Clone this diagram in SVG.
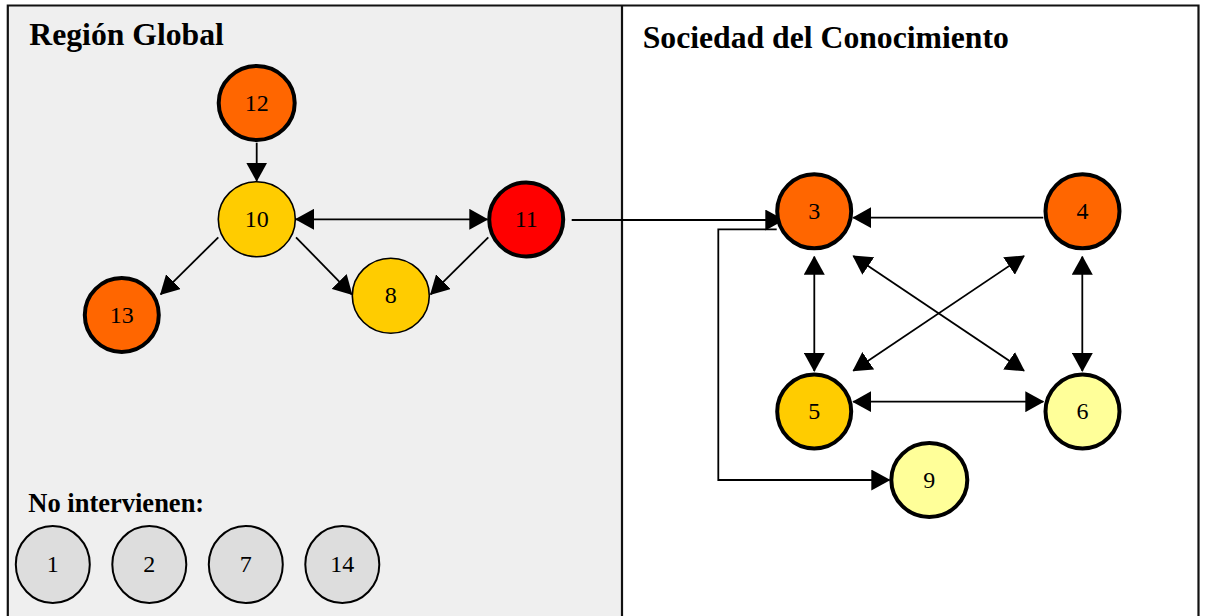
<svg xmlns="http://www.w3.org/2000/svg" width="1205" height="616" viewBox="0 0 1205 616">
<defs>
<style>
.frame{fill:none;stroke:#111;stroke-width:2.2}
.title{font-family:"Liberation Serif","Times New Roman",serif;font-weight:bold;fill:#000}
.lbl{font-family:"Liberation Serif","Times New Roman",serif;font-size:24px;text-anchor:middle;fill:#000}
.thick{stroke:#000;stroke-width:4}
.thin{stroke:#000;stroke-width:1.6}
.gray{fill:#DDDDDD;stroke:#000;stroke-width:2}
.orange{fill:#FF6600}
.yellow{fill:#FFCC00}
.red{fill:#FF0000}
.pale{fill:#FFFF99}
.edge{fill:none;stroke:#000;stroke-width:1.8}
.one{marker-end:url(#ah)}
.two{marker-start:url(#ah);marker-end:url(#ah)}
</style>
<marker id="ah" viewBox="0 0 19 21" refX="18" refY="10.5" markerWidth="19" markerHeight="21" markerUnits="userSpaceOnUse" orient="auto-start-reverse">
<path d="M0,0 L19,10.5 L0,21 z" fill="#000"/>
</marker>
</defs>

<g id="panels">
<rect x="8" y="5.5" width="614" height="620" fill="#EFEFEF"/>
<rect x="622" y="5.5" width="576.5" height="620" fill="#FFFFFF"/>
<path class="frame" d="M7.8,625 V5.5 H1198.5 V625"/>
<line class="frame" x1="622" y1="5.5" x2="622" y2="625"/>
<text class="title" x="29.3" y="45" font-size="31.7">Región Global</text>
<text class="title" x="642.7" y="48.3" font-size="31.7">Sociedad del Conocimiento</text>
<text class="title" x="28.3" y="511.7" font-size="26.5">No intervienen:</text>
</g>

<g id="connectors">
<path class="edge one" d="M256.7,142.7 L256.7,180.7"/>
<path class="edge two" d="M296,219.3 L487.3,219.3"/>
<path class="edge one" d="M218.3,237.3 L160.7,294.3"/>
<path class="edge one" d="M296,237.3 L351.7,294.3"/>
<path class="edge one" d="M488.3,237.3 L430.7,294.3"/>
<path class="edge one" d="M571.7,220 L783.3,220"/>
<path class="edge one" d="M776.7,229.3 L718.3,229.3 L718.3,480 L889.3,480"/>
<path class="edge one" d="M1043.3,217.7 L853.3,217.7"/>
<path class="edge two" d="M814.3,256.7 L814.3,371"/>
<path class="edge two" d="M1082.3,256.7 L1082.3,371"/>
<path class="edge two" d="M853.3,401.7 L1043.3,401.7"/>
<path class="edge two" d="M853.3,256 L1024,370.7"/>
<path class="edge two" d="M1024,256 L853.3,370.7"/>
</g>

<g id="node-12"><ellipse class="orange thick" cx="256.7" cy="103" rx="38" ry="37"/><text class="lbl" x="256.7" y="110.7">12</text></g>
<g id="node-10"><ellipse class="yellow thin" cx="256.8" cy="219.2" rx="38.5" ry="37.5"/><text class="lbl" x="256.8" y="226.5">10</text></g>
<g id="node-11"><ellipse class="red thick" cx="526.2" cy="219.5" rx="37" ry="37"/><text class="lbl" x="526.2" y="227">11</text></g>
<g id="node-13"><ellipse class="orange thick" cx="121.8" cy="315" rx="37" ry="37"/><text class="lbl" x="121.8" y="322.5">13</text></g>
<g id="node-8"><ellipse class="yellow thin" cx="390.8" cy="295.7" rx="38.5" ry="37.5"/><text class="lbl" x="390.8" y="303.2">8</text></g>
<g id="node-3"><ellipse class="orange thick" cx="814.2" cy="211.3" rx="37" ry="37"/><text class="lbl" x="814.2" y="219.3">3</text></g>
<g id="node-4"><ellipse class="orange thick" cx="1082.5" cy="211.3" rx="37" ry="37"/><text class="lbl" x="1082.5" y="219.3">4</text></g>
<g id="node-5"><ellipse class="yellow thick" cx="814.2" cy="411.5" rx="37" ry="37"/><text class="lbl" x="814.2" y="419.3">5</text></g>
<g id="node-6"><ellipse class="pale thick" cx="1082.5" cy="411.5" rx="37" ry="37"/><text class="lbl" x="1082.5" y="419.3">6</text></g>
<g id="node-9"><ellipse class="pale thick" cx="929.3" cy="480" rx="38" ry="37"/><text class="lbl" x="929.3" y="487.8">9</text></g>
<g id="node-1"><ellipse class="gray" cx="52.8" cy="564.5" rx="37" ry="38.5"/><text class="lbl" x="52.8" y="572.3">1</text></g>
<g id="node-2"><ellipse class="gray" cx="149.3" cy="564.5" rx="37" ry="38.5"/><text class="lbl" x="149.3" y="572.3">2</text></g>
<g id="node-7"><ellipse class="gray" cx="245.8" cy="564.5" rx="37" ry="38.5"/><text class="lbl" x="245.8" y="572.3">7</text></g>
<g id="node-14"><ellipse class="gray" cx="342.3" cy="564.5" rx="37" ry="38.5"/><text class="lbl" x="342.3" y="572.3">14</text></g>
</svg>
